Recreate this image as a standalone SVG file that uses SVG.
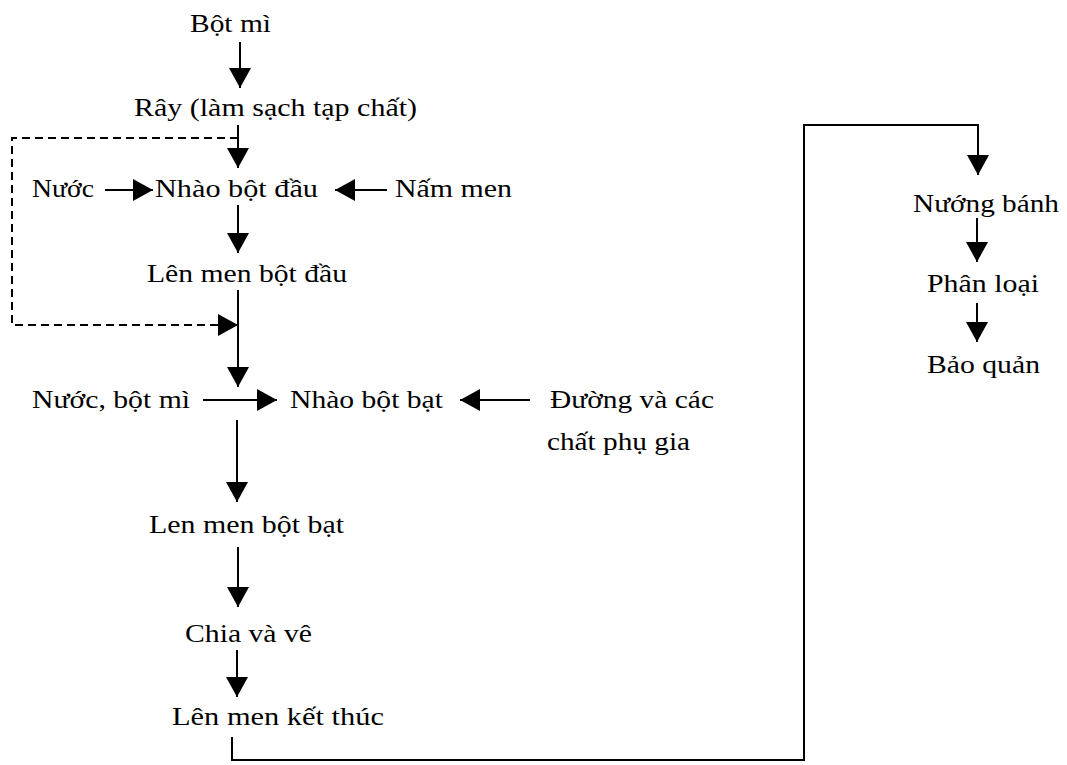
<svg xmlns="http://www.w3.org/2000/svg" width="1067" height="765" viewBox="0 0 1067 765">
<style>
text{font-family:"Liberation Serif","Times New Roman",serif;font-size:25px;fill:#000}
.c{fill:none;stroke:#000;stroke-width:2}
.d{fill:none;stroke:#000;stroke-width:2;stroke-dasharray:8 5}
</style>
<defs>
<marker id="ah" viewBox="0 0 20 22" refX="20" refY="11" markerWidth="20" markerHeight="22" markerUnits="userSpaceOnUse" orient="auto"><path d="M0,0 L20,11 L0,22 z" fill="#000"/></marker>
</defs>
<rect width="1067" height="765" fill="#fff"/>
<g id="connectors">
<path class="c" d="M240,42 V88" marker-end="url(#ah)"/>
<path class="c" d="M238,125 V168" marker-end="url(#ah)"/>
<path class="d" d="M238,138 H12 V325 H238" marker-end="url(#ah)"/>
<path class="c" d="M105,190 H153" marker-end="url(#ah)"/>
<path class="c" d="M387,190 H335" marker-end="url(#ah)"/>
<path class="c" d="M238,205 V253" marker-end="url(#ah)"/>
<path class="c" d="M238,290 V387" marker-end="url(#ah)"/>
<path class="c" d="M203,400 H277" marker-end="url(#ah)"/>
<path class="c" d="M530,400 H460" marker-end="url(#ah)"/>
<path class="c" d="M237,420 V502" marker-end="url(#ah)"/>
<path class="c" d="M238,547 V607" marker-end="url(#ah)"/>
<path class="c" d="M237,650 V697" marker-end="url(#ah)"/>
<path class="c" d="M232,737 V760 H804 V125 H978 V175" marker-end="url(#ah)"/>
<path class="c" d="M977,218 V262" marker-end="url(#ah)"/>
<path class="c" d="M977,303 V342" marker-end="url(#ah)"/>
</g>
<g id="n-botmi"><text x="190" y="32" textLength="81" lengthAdjust="spacingAndGlyphs">Bột mì</text></g>
<g id="n-ray"><text x="134" y="116" textLength="283" lengthAdjust="spacingAndGlyphs">Rây (làm sạch tạp chất)</text></g>
<g id="n-nuoc1"><text x="32" y="197" textLength="62" lengthAdjust="spacingAndGlyphs">Nước</text></g>
<g id="n-nhaodau"><text x="155" y="197" textLength="163" lengthAdjust="spacingAndGlyphs">Nhào bột đầu</text></g>
<g id="n-nammen"><text x="395" y="197" textLength="117" lengthAdjust="spacingAndGlyphs">Nấm men</text></g>
<g id="n-lenmendau"><text x="147" y="282" textLength="200" lengthAdjust="spacingAndGlyphs">Lên men bột đầu</text></g>
<g id="n-nuocbotmi"><text x="32" y="408" textLength="158" lengthAdjust="spacingAndGlyphs">Nước, bột mì</text></g>
<g id="n-nhaobat"><text x="290" y="408" textLength="153" lengthAdjust="spacingAndGlyphs">Nhào bột bạt</text></g>
<g id="n-duong"><text x="550" y="408" textLength="164" lengthAdjust="spacingAndGlyphs">Đường và các</text><text x="547" y="450" textLength="143" lengthAdjust="spacingAndGlyphs">chất phụ gia</text></g>
<g id="n-lenmenbat"><text x="149" y="533" textLength="195" lengthAdjust="spacingAndGlyphs">Len men bột bạt</text></g>
<g id="n-chia"><text x="185" y="642" textLength="127" lengthAdjust="spacingAndGlyphs">Chia và vê</text></g>
<g id="n-ketthuc"><text x="172" y="725" textLength="212" lengthAdjust="spacingAndGlyphs">Lên men kết thúc</text></g>
<g id="n-nuong"><text x="913" y="212" textLength="146" lengthAdjust="spacingAndGlyphs">Nướng bánh</text></g>
<g id="n-phanloai"><text x="927" y="292" textLength="112" lengthAdjust="spacingAndGlyphs">Phân loại</text></g>
<g id="n-baoquan"><text x="927" y="373" textLength="113" lengthAdjust="spacingAndGlyphs">Bảo quản</text></g>
</svg>
